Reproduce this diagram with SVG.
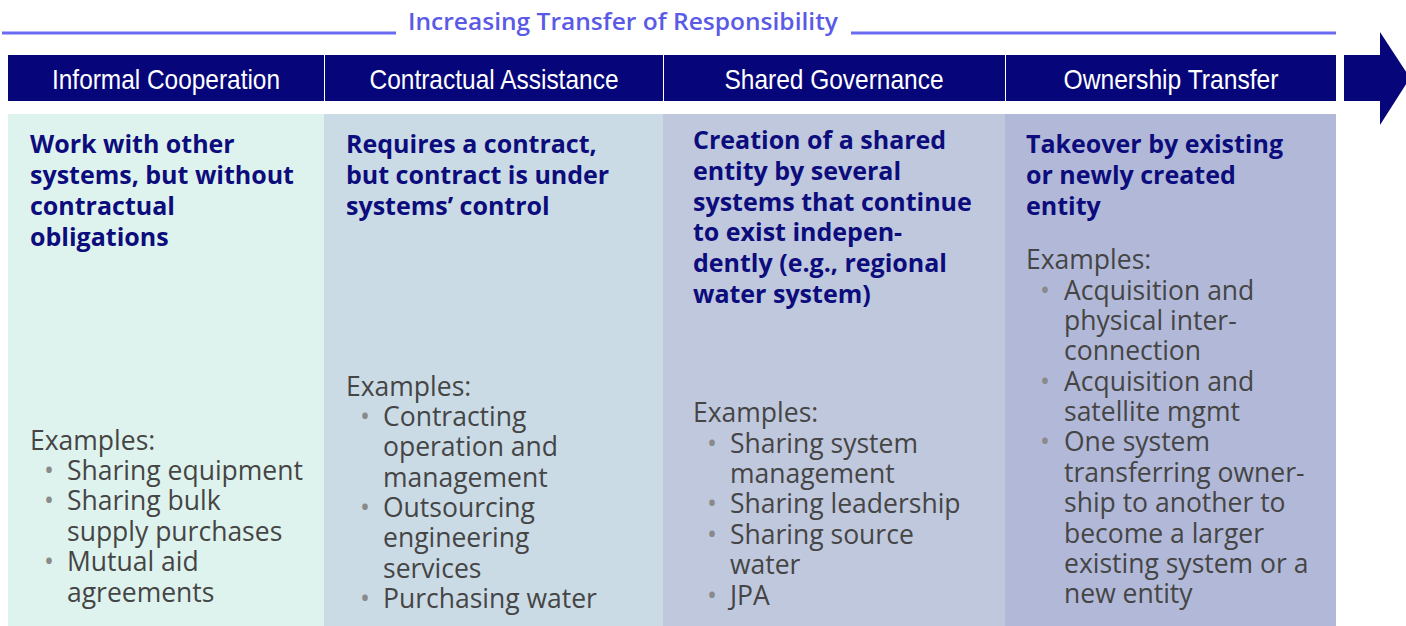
<svg xmlns="http://www.w3.org/2000/svg" width="1406" height="626" viewBox="0 0 1406 626">
<style>
.title{font-family:"Open Sans","Noto Sans",sans-serif;font-size:23px;font-weight:600;fill:#5a5ae6}
.hdr{font-family:"Liberation Sans",Arial,sans-serif;font-size:28px;fill:#ffffff;text-anchor:middle}
.head{font-family:"Open Sans","Noto Sans",sans-serif;font-size:25px;font-weight:700;fill:#0c0c7c}
.body{font-family:"Open Sans","Noto Sans",sans-serif;font-size:26.5px;fill:#454545}
.bul{fill:#8a8a8a}
</style>
<rect width="1406" height="626" fill="#ffffff"/>
<g id="banner">
<line x1="2" y1="33" x2="396" y2="33" stroke="#6b6bf2" stroke-width="3"/>
<line x1="851" y1="33" x2="1336" y2="33" stroke="#6b6bf2" stroke-width="3"/>
<text class="title" x="408" y="30" textLength="430" lengthAdjust="spacingAndGlyphs">Increasing Transfer of Responsibility</text>
<polygon points="1344,55 1380,55 1380,32 1410,78 1380,125 1380,101 1344,101" fill="#06067a"/>
</g>
<g id="col1">
<rect x="8" y="55" width="316" height="46" fill="#06067a"/>
<text class="hdr" x="166" y="89" textLength="228" lengthAdjust="spacingAndGlyphs">Informal Cooperation</text>
<rect x="8" y="114" width="316" height="512" fill="#dff3ee"/>
<text class="head" x="30" y="153">Work with other</text>
<text class="head" x="30" y="184">systems, but without</text>
<text class="head" x="30" y="215">contractual</text>
<text class="head" x="30" y="246">obligations</text>
<text class="body" x="30" y="450">Examples:</text>
<text class="body bul" x="44" y="480">•</text><text class="body" x="67" y="480">Sharing equipment</text>
<text class="body bul" x="44" y="510">•</text><text class="body" x="67" y="510">Sharing bulk</text>
<text class="body" x="67" y="541">supply purchases</text>
<text class="body bul" x="44" y="571">•</text><text class="body" x="67" y="571">Mutual aid</text>
<text class="body" x="67" y="602">agreements</text>
</g>
<g id="col2">
<rect x="325" y="55" width="338" height="46" fill="#06067a"/>
<text class="hdr" x="494" y="89" textLength="249" lengthAdjust="spacingAndGlyphs">Contractual Assistance</text>
<rect x="324" y="114" width="339" height="512" fill="#cbdbe5"/>
<text class="head" x="346" y="153">Requires a contract,</text>
<text class="head" x="346" y="184">but contract is under</text>
<text class="head" x="346" y="215">systems’ control</text>
<text class="body" x="346" y="396">Examples:</text>
<text class="body bul" x="360" y="426">•</text><text class="body" x="383" y="426">Contracting</text>
<text class="body" x="383" y="456">operation and</text>
<text class="body" x="383" y="487">management</text>
<text class="body bul" x="360" y="517">•</text><text class="body" x="383" y="517">Outsourcing</text>
<text class="body" x="383" y="547">engineering</text>
<text class="body" x="383" y="578">services</text>
<text class="body bul" x="360" y="608">•</text><text class="body" x="383" y="608">Purchasing water</text>
</g>
<g id="col3">
<rect x="664" y="55" width="341" height="46" fill="#06067a"/>
<text class="hdr" x="834" y="89" textLength="219" lengthAdjust="spacingAndGlyphs">Shared Governance</text>
<rect x="663" y="114" width="342" height="512" fill="#c0c8de"/>
<text class="head" x="693" y="149">Creation of a shared</text>
<text class="head" x="693" y="180">entity by several</text>
<text class="head" x="693" y="211">systems that continue</text>
<text class="head" x="693" y="241">to exist indepen-</text>
<text class="head" x="693" y="272">dently (e.g., regional</text>
<text class="head" x="693" y="303">water system)</text>
<text class="body" x="693" y="422">Examples:</text>
<text class="body bul" x="707" y="453">•</text><text class="body" x="730" y="453">Sharing system</text>
<text class="body" x="730" y="483">management</text>
<text class="body bul" x="707" y="513">•</text><text class="body" x="730" y="513">Sharing leadership</text>
<text class="body bul" x="707" y="544">•</text><text class="body" x="730" y="544">Sharing source</text>
<text class="body" x="730" y="574">water</text>
<text class="body bul" x="707" y="605">•</text><text class="body" x="730" y="605">JPA</text>
</g>
<g id="col4">
<rect x="1006" y="55" width="330" height="46" fill="#06067a"/>
<text class="hdr" x="1171" y="89" textLength="215" lengthAdjust="spacingAndGlyphs">Ownership Transfer</text>
<rect x="1005" y="114" width="331" height="512" fill="#b2b9d8"/>
<text class="head" x="1026" y="153">Takeover by existing</text>
<text class="head" x="1026" y="184">or newly created</text>
<text class="head" x="1026" y="215">entity</text>
<text class="body" x="1026" y="269">Examples:</text>
<text class="body bul" x="1040" y="300">•</text><text class="body" x="1064" y="300">Acquisition and</text>
<text class="body" x="1064" y="330">physical inter-</text>
<text class="body" x="1064" y="360">connection</text>
<text class="body bul" x="1040" y="391">•</text><text class="body" x="1064" y="391">Acquisition and</text>
<text class="body" x="1064" y="421">satellite mgmt</text>
<text class="body bul" x="1040" y="451">•</text><text class="body" x="1064" y="451">One system</text>
<text class="body" x="1064" y="482">transferring owner-</text>
<text class="body" x="1064" y="512">ship to another to</text>
<text class="body" x="1064" y="543">become a larger</text>
<text class="body" x="1064" y="573">existing system or a</text>
<text class="body" x="1064" y="603">new entity</text>
</g>
<g id="connectors"/>
</svg>
